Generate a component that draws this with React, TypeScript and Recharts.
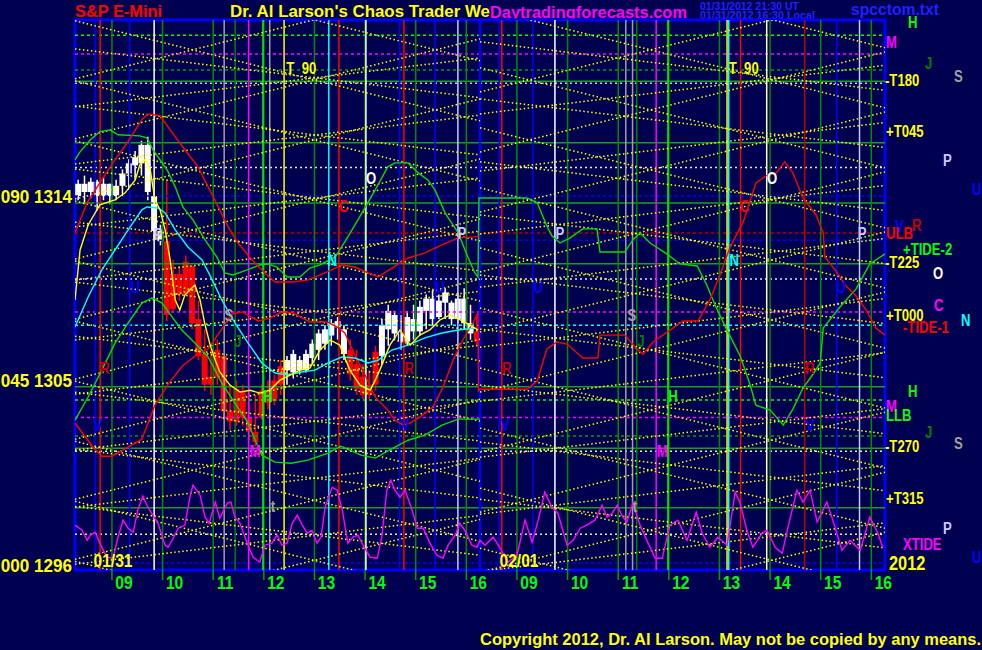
import React from "react";
import {
  ComposedChart,
  XAxis,
  YAxis,
  Bar,
  Line,
  Scatter,
  ReferenceLine,
  ReferenceArea,
} from "recharts";

// ---------- data ----------
// x axis: session hours, 0..8 = 01/31, 8..16 = 02/01 (each session opens 08:16)
const sessionOpen = 8.27;
const hourLabels = ["09", "10", "11", "12", "13", "14", "15", "16"];
const priceTicks = [1296, 1305, 1314];
const priceTickNames = ["000 1296", "045 1305", "090 1314"];

// 7.5 minute bars of 01/31: high, low, open, close, trend (w / r)
const bars: [number, number, number, number, string][] = [
  [1314.8, 1313.8, 1314.0, 1314.6, "w"],
  [1315.0, 1313.6, 1314.6, 1314.2, "w"],
  [1314.9, 1313.9, 1314.2, 1314.7, "w"],
  [1314.8, 1313.3, 1314.7, 1314.0, "w"],
  [1314.9, 1313.8, 1314.0, 1314.6, "w"],
  [1314.6, 1313.6, 1314.6, 1314.0, "w"],
  [1314.8, 1313.8, 1314.0, 1314.5, "w"],
  [1315.3, 1314.0, 1314.5, 1315.1, "w"],
  [1315.8, 1314.3, 1315.1, 1315.6, "w"],
  [1316.2, 1314.8, 1315.5, 1315.9, "w"],
  [1316.7, 1315.0, 1315.6, 1316.5, "w"],
  [1316.9, 1313.8, 1316.5, 1314.2, "w"],
  [1314.1, 1311.9, 1314.0, 1312.3, "w"],
  [1312.6, 1311.6, 1312.3, 1311.8, "w"],
  [1314.8, 1307.9, 1311.8, 1308.2, "r"],
  [1310.9, 1308.4, 1308.5, 1310.2, "r"],
  [1310.6, 1308.9, 1310.2, 1309.2, "r"],
  [1311.1, 1309.4, 1309.2, 1310.8, "r"],
  [1310.4, 1307.5, 1310.6, 1307.8, "r"],
  [1308.9, 1306.0, 1308.0, 1306.2, "r"],
  [1307.5, 1304.5, 1306.3, 1304.8, "r"],
  [1306.5, 1304.3, 1304.8, 1305.2, "r"],
  [1307.0, 1304.8, 1305.2, 1306.5, "r"],
  [1306.0, 1303.1, 1306.2, 1303.5, "r"],
  [1304.8, 1302.6, 1303.5, 1303.0, "r"],
  [1305.0, 1302.8, 1303.0, 1304.6, "r"],
  [1304.8, 1302.8, 1304.5, 1303.2, "r"],
  [1304.5, 1302.1, 1303.2, 1302.5, "r"],
  [1304.3, 1301.8, 1302.5, 1302.0, "r"],
  [1304.8, 1303.1, 1303.2, 1304.5, "r"],
  [1305.0, 1303.6, 1304.4, 1303.9, "r"],
  [1305.3, 1303.8, 1304.0, 1305.0, "r"],
  [1306.0, 1304.3, 1304.8, 1305.7, "r"],
  [1306.2, 1304.8, 1305.5, 1306.0, "w"],
  [1306.5, 1305.1, 1305.4, 1306.3, "w"],
  [1306.2, 1305.3, 1306.0, 1305.5, "w"],
  [1306.5, 1305.4, 1305.5, 1306.3, "w"],
  [1307.0, 1305.8, 1306.1, 1306.8, "w"],
  [1307.5, 1306.0, 1306.5, 1307.3, "w"],
  [1307.7, 1306.5, 1306.8, 1307.5, "w"],
  [1308.0, 1306.7, 1307.2, 1307.8, "w"],
  [1308.1, 1307.0, 1307.6, 1307.9, "w"],
  [1307.7, 1306.0, 1307.5, 1306.3, "w"],
  [1307.0, 1305.0, 1306.5, 1305.3, "r"],
  [1306.5, 1304.3, 1305.8, 1304.6, "r"],
  [1305.8, 1304.1, 1305.2, 1304.3, "r"],
  [1305.5, 1304.1, 1304.3, 1304.8, "r"],
  [1306.7, 1304.5, 1304.8, 1306.4, "r"],
  [1308.0, 1305.8, 1306.2, 1307.7, "w"],
  [1308.7, 1306.7, 1307.5, 1308.4, "w"],
  [1308.4, 1307.0, 1308.2, 1307.3, "w"],
  [1308.2, 1306.5, 1307.3, 1306.9, "w"],
  [1308.4, 1306.7, 1306.9, 1308.1, "w"],
  [1308.7, 1307.0, 1308.0, 1307.4, "w"],
  [1308.9, 1307.2, 1307.4, 1308.6, "w"],
  [1309.2, 1307.5, 1308.4, 1309.0, "w"],
  [1309.4, 1307.7, 1309.0, 1308.0, "w"],
  [1309.2, 1308.0, 1308.1, 1308.9, "w"],
  [1309.5, 1308.0, 1308.8, 1309.3, "w"],
  [1308.9, 1307.7, 1308.8, 1308.0, "w"],
  [1309.3, 1307.8, 1308.0, 1309.0, "w"],
  [1309.5, 1307.5, 1309.0, 1307.8, "w"],
  [1308.7, 1307.0, 1307.8, 1307.3, "w"],
  [1308.2, 1306.7, 1307.4, 1306.9, "r"],
];

// curves: [session hour, price]
const yellowAvg: [number, number][] = [
  [0, 1308.93], [0.1, 1311.37], [0.26, 1312.59], [0.49, 1313.57], [0.79, 1313.81], [0.99, 1314.16],
  [1.19, 1314.79], [1.28, 1315.52], [1.38, 1315.77], [1.48, 1315.38], [1.58, 1313.81], [1.68, 1313.33],
  [1.78, 1312.35], [1.88, 1310.88], [1.98, 1308.93], [2.07, 1308.44], [2.17, 1309.17], [2.27, 1309.42],
  [2.37, 1309.66], [2.47, 1308.93], [2.57, 1307.71], [2.67, 1306.73], [2.77, 1306.0], [2.86, 1305.42],
  [3.06, 1304.78], [3.26, 1304.44], [3.46, 1304.53], [3.65, 1304.39], [3.85, 1304.53], [4.05, 1305.02],
  [4.25, 1305.27], [4.44, 1305.51], [4.64, 1305.61], [4.84, 1306.49], [5.04, 1306.98], [5.23, 1306.73],
  [5.43, 1305.51], [5.63, 1304.78], [5.83, 1304.53], [5.93, 1305.02], [6.02, 1305.51], [6.22, 1306.73],
  [6.42, 1307.47], [6.62, 1306.73], [6.81, 1307.22], [7.01, 1307.47], [7.21, 1307.96], [7.41, 1308.2],
  [7.61, 1307.96], [7.8, 1307.71], [7.96, 1307.47],
];

const cyanLine: [number, number][] = [
  [0, 1307.61], [0.26, 1309.08], [0.53, 1310.4], [0.79, 1311.37], [1.05, 1312.35], [1.32, 1313.33],
  [1.42, 1313.47], [1.64, 1313.42], [1.78, 1313.18], [1.98, 1312.35], [2.23, 1311.52], [2.51, 1310.88],
  [2.71, 1309.91], [2.9, 1308.93], [3.16, 1307.81], [3.42, 1306.83], [3.69, 1305.86], [3.95, 1305.37],
  [4.21, 1305.27], [4.48, 1305.42], [4.74, 1305.51], [5.0, 1305.86], [5.27, 1306.15], [5.53, 1306.1],
  [5.79, 1305.86], [5.99, 1306.0], [6.26, 1306.49], [6.58, 1306.73], [6.91, 1307.08], [7.25, 1307.32],
  [7.57, 1307.47], [7.9, 1307.56],
];

const redUpper: [number, number][] = [
  [0, 1312.2], [0.24, 1313.67], [0.49, 1314.64], [0.75, 1315.62], [1.03, 1316.6], [1.32, 1317.72],
  [1.44, 1318.01], [1.68, 1317.92], [1.88, 1317.23], [2.17, 1316.26], [2.43, 1315.43], [2.63, 1314.45],
  [2.83, 1313.47], [3.03, 1312.49], [3.22, 1311.71], [3.5, 1310.88], [3.75, 1310.25], [3.95, 1309.81],
  [4.29, 1309.81], [4.61, 1309.91], [4.94, 1310.25], [5.27, 1310.64], [5.53, 1310.54], [5.79, 1310.25],
  [5.99, 1310.06], [6.26, 1310.49], [6.58, 1310.98], [6.91, 1311.23], [7.25, 1311.62], [7.57, 1311.96],
  [7.9, 1312.01], [8.0, 1312.06],
];

const redTide: [number, number][] = [
  [0, 1302.93], [0.34, 1301.8], [0.53, 1301.31], [0.73, 1301.31], [1.05, 1301.75], [1.32, 1302.14],
  [1.58, 1303.8], [1.84, 1304.83], [2.12, 1305.71], [2.37, 1306.2], [2.63, 1306.54], [2.91, 1307.56],
  [3.1, 1308.25], [3.3, 1308.35], [3.62, 1307.91], [3.85, 1308.05], [4.09, 1308.35], [4.31, 1308.3],
  [4.64, 1307.86], [4.98, 1307.86], [5.18, 1307.61], [5.33, 1307.32], [5.53, 1306.24], [5.73, 1305.27],
  [5.93, 1304.2], [6.18, 1303.56], [6.32, 1303.07], [6.48, 1302.83], [6.62, 1302.93], [6.81, 1303.22],
  [7.07, 1303.71], [7.27, 1304.68], [7.47, 1306.0], [7.66, 1306.98], [7.86, 1307.81], [7.96, 1308.3],
  [7.97, 1304.5], [8.0, 1304.58], [8.93, 1304.58], [9.13, 1304.98], [9.32, 1306.54], [9.52, 1306.88],
  [9.72, 1306.78], [10.03, 1306.1], [10.33, 1306.1], [10.37, 1307.22], [10.86, 1307.22], [11.1, 1306.54],
  [11.22, 1306.29], [11.42, 1306.88], [11.81, 1307.56], [12.01, 1307.91], [12.31, 1307.91], [12.54, 1308.93],
  [12.74, 1310.15], [12.94, 1311.52], [13.2, 1312.74], [13.45, 1314.64], [13.65, 1314.99], [13.85, 1315.13],
  [14.02, 1315.67], [14.18, 1315.13], [14.38, 1313.91], [14.64, 1313.08], [14.78, 1312.2], [14.81, 1311.03],
  [15.03, 1310.35], [15.23, 1309.61], [15.43, 1309.13], [15.63, 1308.44], [15.82, 1307.56], [16.0, 1307.22],
];

const greenTide: [number, number][] = [
  [0, 1315.77], [0.1, 1316.16], [0.3, 1316.74], [0.49, 1317.14], [0.69, 1317.23], [0.85, 1316.99],
  [1.28, 1316.94], [1.42, 1316.84], [1.54, 1316.26], [1.68, 1315.77], [1.82, 1315.28], [1.98, 1314.45],
  [2.13, 1313.47], [2.33, 1312.84], [2.53, 1312.01], [2.8, 1311.03], [2.96, 1310.25], [3.12, 1310.15],
  [3.4, 1310.4], [3.65, 1310.64], [3.81, 1310.69], [3.99, 1310.54], [4.19, 1310.05], [4.44, 1310.05],
  [4.64, 1310.49], [4.84, 1310.64], [5.14, 1311.03], [5.39, 1312.01], [5.67, 1313.18], [5.93, 1314.3],
  [6.18, 1315.43], [6.32, 1315.62], [6.58, 1315.62], [6.78, 1315.13], [6.97, 1314.79], [7.11, 1314.3],
  [7.31, 1313.18], [7.57, 1312.2], [7.76, 1311.03], [7.9, 1310.25], [7.96, 1310.05], [7.98, 1313.91],
  [8.0, 1313.91], [8.93, 1313.91], [9.13, 1313.67], [9.32, 1312.54], [9.42, 1312.06], [9.58, 1311.71],
  [9.78, 1311.96], [10.03, 1312.4], [10.31, 1312.4], [10.37, 1311.27], [10.86, 1311.27], [11.02, 1311.86],
  [11.16, 1312.2], [11.36, 1311.71], [11.69, 1311.18], [11.95, 1310.69], [12.29, 1310.59], [12.48, 1309.66],
  [12.66, 1308.59], [12.86, 1307.56], [13.14, 1306.2], [13.33, 1304.83], [13.45, 1303.8], [13.73, 1303.56],
  [13.99, 1302.83], [14.18, 1303.61], [14.38, 1304.63], [14.58, 1305.32], [14.72, 1305.86], [14.78, 1307.56],
  [15.11, 1308.59], [15.43, 1309.47], [15.7, 1310.69], [16.0, 1311.18],
];

const greenLow: [number, number][] = [
  [0, 1303.07], [0.26, 1304.2], [0.53, 1305.51], [0.79, 1306.83], [1.05, 1307.81], [1.32, 1308.78],
  [1.52, 1309.03], [1.72, 1308.78], [1.92, 1308.1], [2.11, 1307.47], [2.37, 1306.83], [2.63, 1306.15],
  [2.9, 1304.88], [3.16, 1303.9], [3.42, 1302.93], [3.56, 1302.09], [3.69, 1301.36], [3.95, 1301.02],
  [4.27, 1300.97], [4.6, 1301.12], [5.0, 1301.46], [5.25, 1301.8], [5.65, 1301.36], [5.93, 1301.22],
  [6.32, 1301.75], [6.58, 1302.09], [6.91, 1302.34], [7.25, 1302.83], [7.57, 1303.12], [8.0, 1303.12],
];

const xtide: [number, number][] = [
  [0, 1297.95], [0.14, 1297.7], [0.24, 1297.21], [0.3, 1297.46], [0.4, 1297.6], [0.49, 1297.07],
  [0.63, 1296.38], [0.75, 1296.33], [0.85, 1297.36], [0.95, 1298.19], [1.05, 1297.8], [1.15, 1297.6],
  [1.24, 1298.68], [1.34, 1299.36], [1.42, 1298.92], [1.54, 1298.43], [1.64, 1298.04], [1.78, 1296.97],
  [1.84, 1296.87], [1.94, 1297.31], [2.04, 1297.8], [2.17, 1297.95], [2.27, 1299.31], [2.33, 1299.9],
  [2.47, 1299.41], [2.57, 1298.34], [2.65, 1298.04], [2.77, 1299.07], [2.86, 1298.29], [3.01, 1299.02],
  [3.08, 1299.07], [3.16, 1298.34], [3.26, 1298.04], [3.4, 1297.07], [3.52, 1296.38], [3.65, 1296.14],
  [3.75, 1296.97], [3.89, 1297.07], [3.99, 1297.46], [4.09, 1296.97], [4.19, 1297.07], [4.29, 1298.04],
  [4.39, 1298.43], [4.49, 1297.95], [4.59, 1297.55], [4.68, 1297.7], [4.78, 1297.07], [4.86, 1297.36],
  [4.94, 1298.82], [5.08, 1299.8], [5.18, 1299.65], [5.28, 1298.68], [5.39, 1297.07], [5.49, 1297.36],
  [5.59, 1297.46], [5.69, 1296.97], [5.83, 1296.38], [5.97, 1296.33], [6.06, 1297.36], [6.16, 1299.65],
  [6.24, 1300.14], [6.32, 1299.65], [6.42, 1299.31], [6.52, 1299.65], [6.66, 1298.68], [6.76, 1297.8],
  [6.88, 1297.8], [7.01, 1297.07], [7.15, 1296.48], [7.27, 1296.33], [7.37, 1296.97], [7.51, 1297.46],
  [7.6, 1298.04], [7.7, 1297.7], [7.84, 1296.97], [7.94, 1296.87], [8.0, 1297.21], [8.1, 1296.97],
  [8.26, 1297.36], [8.4, 1296.82], [8.55, 1296.14], [8.73, 1296.48], [8.89, 1298.19], [9.03, 1297.11],
  [9.15, 1298.19], [9.28, 1299.56], [9.42, 1298.82], [9.54, 1298.53], [9.72, 1296.97], [9.84, 1297.21],
  [9.98, 1297.8], [10.11, 1297.95], [10.27, 1298.19], [10.41, 1298.92], [10.51, 1298.34], [10.61, 1298.53],
  [10.71, 1298.92], [10.8, 1298.43], [10.9, 1298.09], [11.02, 1299.02], [11.16, 1297.95], [11.32, 1297.07],
  [11.46, 1296.33], [11.6, 1296.33], [11.75, 1297.95], [11.91, 1298.19], [12.09, 1297.21], [12.27, 1298.58],
  [12.39, 1297.55], [12.54, 1296.87], [12.7, 1297.36], [12.88, 1296.97], [13.04, 1299.56], [13.14, 1299.02],
  [13.27, 1297.7], [13.39, 1296.87], [13.57, 1297.55], [13.67, 1297.7], [13.83, 1296.87], [13.97, 1296.58],
  [14.08, 1297.8], [14.26, 1299.65], [14.38, 1299.07], [14.52, 1299.65], [14.66, 1298.09], [14.85, 1299.07],
  [14.97, 1298.19], [15.15, 1296.72], [15.31, 1297.21], [15.51, 1296.72], [15.7, 1298.34], [15.86, 1297.55],
  [15.96, 1296.82],
];

// vertical time lines: session, clock time, kind
const timeLines: [number, string, string][] = [
  [0, "8:40", "b"], [0, "8:46", "r"], [0, "9:21", "b"], [0, "9:50", "w"], [0, "11:13", "gy"],
  [0, "11:26", "dg"], [0, "11:42", "m"], [0, "11:59", "lg"], [0, "12:07", "gy"], [0, "12:24", "y"],
  [0, "13:17", "c"], [0, "13:29", "r"], [0, "14:01", "w"], [0, "14:41", "b"], [0, "14:46", "r"],
  [0, "15:23", "b"], [0, "15:50", "lv"],
  [1, "8:39", "b"], [1, "8:42", "r"], [1, "9:19", "b"], [1, "9:45", "w"], [1, "11:09", "gy"],
  [1, "11:17", "gy"], [1, "11:22", "dg"], [1, "11:45", "m"], [1, "11:59", "lg"], [1, "13:09", "y"],
  [1, "13:11", "c"], [1, "13:25", "r"], [1, "13:56", "w"], [1, "14:41", "dr"], [1, "15:19", "b"],
  [1, "15:46", "lv"],
];

// horizontal price levels: price, kind
const priceLevels: [number, string][] = [
  [1321.85, "lgd"], [1320.93, "md"], [1320.15, "dgd"], [1319.6, "gs"], [1319.5, "lvd"],
  [1316.6, "gs"], [1315.4, "wd"], [1314.0, "bd"], [1313.66, "gs"], [1312.2, "rd"],
  [1311.85, "bd"], [1310.7, "gs"], [1309.95, "wd"], [1308.34, "md"], [1307.7, "cd"],
  [1304.7, "gs"], [1304.05, "lgd"], [1303.2, "md"], [1302.3, "dgd"], [1301.7, "gs"],
  [1301.55, "wd"], [1298.8, "gs"], [1297.5, "wd"], [1296.1, "bd"],
];

// angle lines: session, price at session open, price at session close
const angleLines: [number, number, number][] = [
  [0, 1325.48, 1320.6], [0, 1322.55, 1317.67], [0, 1319.62, 1314.74], [0, 1316.69, 1311.81],
  [0, 1313.76, 1308.88], [0, 1310.83, 1305.95], [0, 1307.9, 1303.02], [0, 1304.97, 1300.09],
  [0, 1302.04, 1297.16], [0, 1299.11, 1294.23], [0, 1296.18, 1291.3],
  [0, 1319.72, 1324.6], [0, 1316.79, 1321.67], [0, 1313.86, 1318.74], [0, 1310.93, 1315.81],
  [0, 1308.0, 1312.88], [0, 1305.07, 1309.95], [0, 1302.14, 1307.02], [0, 1299.21, 1304.09],
  [0, 1296.28, 1301.16], [0, 1293.35, 1298.23],
  [0, 1321.18, 1318.8], [0, 1318.39, 1316.01], [0, 1315.32, 1312.94], [0, 1312.73, 1310.35],
  [0, 1309.8, 1307.42], [0, 1307.16, 1304.78], [0, 1304.43, 1302.05], [0, 1301.65, 1299.27],
  [0, 1298.86, 1296.48],
  [0, 1318.36, 1320.74], [0, 1315.57, 1317.95], [0, 1312.5, 1314.88], [0, 1309.91, 1312.29],
  [0, 1306.98, 1309.36], [0, 1304.34, 1306.72], [0, 1301.61, 1303.99], [0, 1298.83, 1301.21],
  [0, 1296.04, 1298.42],
  [1, 1326.12, 1321.24], [1, 1323.19, 1318.31], [1, 1320.26, 1315.38], [1, 1317.33, 1312.45],
  [1, 1314.4, 1309.52], [1, 1311.47, 1306.59], [1, 1308.54, 1303.66], [1, 1305.61, 1300.73],
  [1, 1302.68, 1297.8], [1, 1299.75, 1294.87], [1, 1296.82, 1291.94],
  [1, 1319.08, 1323.96], [1, 1316.15, 1321.03], [1, 1313.22, 1318.1], [1, 1310.3, 1315.18],
  [1, 1307.37, 1312.25], [1, 1304.44, 1309.32], [1, 1301.51, 1306.39], [1, 1298.58, 1303.46],
  [1, 1295.65, 1300.53], [1, 1292.72, 1297.6],
  [1, 1321.53, 1319.16], [1, 1318.74, 1316.37], [1, 1315.67, 1313.3], [1, 1313.08, 1310.71],
  [1, 1310.15, 1307.78], [1, 1307.51, 1305.14], [1, 1304.78, 1302.41], [1, 1302.0, 1299.63],
  [1, 1299.21, 1296.84],
  [1, 1318.01, 1320.38], [1, 1315.22, 1317.59], [1, 1312.15, 1314.52], [1, 1309.56, 1311.93],
  [1, 1306.63, 1309.0], [1, 1303.99, 1306.36], [1, 1301.26, 1303.63], [1, 1298.48, 1300.85],
  [1, 1295.69, 1298.06],
];

// letters drawn inside the chart: text, session hour, price
const chartLetters: [string, number, number][] = [
  ["P", 1.64, 1312.15], ["P", 7.64, 1312.2], ["P", 9.58, 1312.2], ["P", 15.55, 1312.2],
  ["U", 1.19, 1309.57], ["U", 7.21, 1309.57], ["U", 9.15, 1309.57], ["U", 15.13, 1309.57],
  ["O", 5.85, 1314.89], ["O", 13.77, 1314.89], ["C", 5.31, 1313.52], ["C", 13.23, 1313.52],
  ["N", 5.08, 1310.88], ["N", 13.02, 1310.88], ["S", 3.04, 1308.2], ["S", 11.0, 1308.2],
  ["J", 3.22, 1306.93], ["J", 11.18, 1306.93], ["R", 0.59, 1305.61], ["R", 6.6, 1305.61],
  ["R", 8.53, 1305.61], ["R", 14.52, 1305.61], ["H", 3.81, 1304.24], ["H", 11.81, 1304.24],
  ["V", 0.45, 1302.83], ["V", 6.52, 1302.83], ["V", 8.49, 1302.83], ["V", 14.52, 1302.83],
  ["M", 3.56, 1301.56], ["M", 11.6, 1301.56], ["t", 3.91, 1298.87], ["t", 11.06, 1298.87],
  ["T\u00a0\u00a090", 4.47, 1320.26], ["T\u00a0\u00a090", 13.21, 1320.26],
  ["01/31", 0.75, 1296.24], ["02/01", 8.77, 1296.24],
];

// labels right of the chart: text, price
const sideLabels: [string, number][] = [
  ["H", 1322.46], ["M", 1321.53], ["J", 1320.5], ["S", 1319.85], ["-T180", 1319.67],
  ["+T045", 1317.18], ["P", 1315.77], ["U", 1314.35], ["R", 1312.59], ["V", 1312.54],
  ["ULB", 1312.2], ["+TIDE-2", 1311.42], ["-T225", 1310.79], ["O", 1310.25], ["C", 1308.69],
  ["+T000", 1308.2], ["N", 1307.95], ["-TIDE-1", 1307.61], ["H", 1304.49], ["M", 1303.76],
  ["LLB", 1303.32], ["J", 1302.49], ["S", 1301.95], ["-T270", 1301.8], ["+T315", 1299.26],
  ["P", 1297.8], ["XTIDE", 1297.02], ["U", 1296.39], ["2012", 1296.09],
];

// ---------- styling ----------
const NAVY = "#000050";
const SANS = "'Liberation Sans', Arial, sans-serif";
const Y_MIN = 1295.76;
const Y_MAX = 1322.59;

const kindColor: Record<string, string> = {
  b: "#0000ff", r: "#ff0000", dr: "#c00000", w: "#ffffff", lv: "#c8c8ff", gy: "#a0a0a0",
  dg: "#008000", m: "#ff00ff", lg: "#00ff00", y: "#ffff00", c: "#00ffff",
};
const levelStyle: Record<string, { stroke: string; dash?: string }> = {
  gs: { stroke: "#1c9c1c" },
  lgd: { stroke: "#00ff00", dash: "3 3" },
  md: { stroke: "#ff00ff", dash: "3 3" },
  dgd: { stroke: "#00a000", dash: "3 3" },
  lvd: { stroke: "#c8c8ff", dash: "2 3" },
  wd: { stroke: "#e8e8e8", dash: "2 3" },
  bd: { stroke: "#0000ff", dash: "3 3" },
  rd: { stroke: "#b00000", dash: "3 3" },
  cd: { stroke: "#00ffff", dash: "3 3" },
};
const letterColor: Record<string, string> = {
  P: "#c8c8ff", U: "#0000ff", O: "#ffffff", C: "#ff0000", N: "#00ffff", S: "#a0a0a0",
  J: "#008000", R: "#c00000", H: "#00ff00", V: "#0000ff", M: "#ff00ff", t: "#a0a0a0",
};
const sideStyle: Record<string, { color: string; dx: number; size?: number }> = {
  H: { color: "#00ff00", dx: 23 }, M: { color: "#ff00ff", dx: 1 }, J: { color: "#008000", dx: 40 },
  S: { color: "#a0a0a0", dx: 69 }, P: { color: "#c8c8ff", dx: 58 }, U: { color: "#0000ff", dx: 87 },
  R: { color: "#c00000", dx: 27 }, V: { color: "#0000ff", dx: 10 }, O: { color: "#ffffff", dx: 48 },
  C: { color: "#ff00ff", dx: 49 }, N: { color: "#00ffff", dx: 76 },
  ULB: { color: "#ff0000", dx: 1 }, LLB: { color: "#00ff00", dx: 1 },
  "+TIDE-2": { color: "#00ff00", dx: 18 }, "-TIDE-1": { color: "#ff0000", dx: 18 },
  XTIDE: { color: "#ff00ff", dx: 18 },
  "-T180": { color: "#ffff00", dx: 0 }, "+T045": { color: "#ffff00", dx: 1 },
  "-T225": { color: "#ffff00", dx: 0 }, "+T000": { color: "#ffff00", dx: 1 },
  "-T270": { color: "#ffff00", dx: 0 }, "+T315": { color: "#ffff00", dx: 1 },
  "2012": { color: "#ffff00", dx: 4, size: 20 },
};

// ---------- helpers ----------
const clockToT = (day: number, clock: string) => {
  const [h, m] = clock.split(":").map(Number);
  return day * 8 + h + m / 60 - sessionOpen;
};
const hourTicks = [0, 1].flatMap((d) => hourLabels.map((h) => clockToT(d, `${h}:00`)));
const toPts = (arr: [number, number][]) => arr.map(([t, p]) => ({ t, p }));
const candleData = bars.map(([h, l, o, c, k], i) => ({ t: (i + 0.5) / 8, h, l, o, c, k }));
const letterData = chartLetters.map(([text, t, p]) => ({ text, t, p }));

const curves = [
  { data: toPts(greenLow), color: "#00e000" },
  { data: toPts(greenTide), color: "#00e000" },
  { data: toPts(redUpper), color: "#ff0000" },
  { data: toPts(redTide), color: "#ff0000" },
  { data: toPts(cyanLine), color: "#00ffff" },
  { data: toPts(xtide), color: "#ff00ff" },
];

// bold text squeezed horizontally, like the condensed lettering of the original
const NarrowText = ({ x, y, size, color, anchor = "start", squeeze = 0.82, children }: any) => (
  <text
    transform={`translate(${x},${y}) scale(${squeeze},1)`}
    dy={size * 0.36}
    textAnchor={anchor}
    fill={color}
    fontSize={size}
    fontWeight="bold"
    fontFamily={SANS}
  >
    {children}
  </text>
);

const Candle = (props: any) => {
  const { x, y, width, height, payload } = props;
  if (height == null || !payload) return null;
  const { h, l, o, c, k } = payload;
  const mid = x + width / 2;
  const per = height / (h - l || 1);
  const top = y + (h - Math.max(o, c)) * per;
  const bot = y + (h - Math.min(o, c)) * per;
  const col = k === "w" ? "#ffffff" : "#ff0000";
  return (
    <g>
      <line x1={mid} x2={mid} y1={y} y2={y + height} stroke={col} strokeWidth={1.5} />
      <rect x={mid - 3} y={top} width={6} height={Math.max(2, bot - top)} fill={col} />
    </g>
  );
};

const XTick = (props: any) => {
  const { x, y, payload } = props;
  const idx = hourTicks.findIndex((v) => Math.abs(v - payload.value) < 1e-6);
  const lab = hourLabels[idx % 8];
  return (
    <g>
      <line x1={x} x2={x} y1={y} y2={y + 10} stroke="#00a000" strokeWidth={1.5} />
      <NarrowText x={x + 12} y={y + 12} size={19} color="#00ff00" anchor="middle">
        {lab}
      </NarrowText>
    </g>
  );
};

const YTick = (props: any) => {
  const { x, y, payload } = props;
  const name = priceTickNames[priceTicks.indexOf(payload.value)];
  return (
    <NarrowText x={x - 3} y={y} size={19} color="#ffff00" anchor="end" squeeze={0.9}>
      {name}
    </NarrowText>
  );
};

const SideTick = (props: any) => {
  const { x, y, payload } = props;
  const lab = sideLabels.find((s) => s[1] === payload.value);
  if (!lab) return null;
  const st = sideStyle[lab[0]];
  return (
    <NarrowText x={x + st.dx} y={y} size={st.size ?? 16} color={st.color}>
      {lab[0]}
    </NarrowText>
  );
};

const LetterShape = (props: any) => {
  const { cx, cy, payload } = props;
  const txt: string = payload.text;
  const isDate = txt.includes("/");
  return (
    <NarrowText x={cx} y={cy} size={isDate ? 19 : 16} color={letterColor[txt] ?? "#ffff00"} anchor="middle">
      {txt}
    </NarrowText>
  );
};

export default function App() {
  return (
    <div style={{ position: "absolute", left: 0, top: 0, width: 982, height: 650, background: NAVY, overflow: "hidden" }}>
      <svg width={982} height={650} style={{ position: "absolute", left: 0, top: 0 }}>
        <g fontFamily={SANS} fontWeight="bold">
          <text x={75} y={17} fill="#ff0000" fontSize={17} textLength={87} lengthAdjust="spacingAndGlyphs">S&amp;P E-Mini</text>
          <text x={230} y={17} fill="#ffff00" fontSize={17} textLength={260} lengthAdjust="spacingAndGlyphs">Dr. Al Larson's Chaos Trader We</text>
          <text x={490} y={18} fill="#ff00ff" fontSize={17} textLength={197} lengthAdjust="spacingAndGlyphs">Daytradingforecasts.com</text>
          <text x={700} y={10} fill="#2020ff" fontSize={11} textLength={99} lengthAdjust="spacingAndGlyphs">01/31/2012 21:30 UT</text>
          <text x={700} y={19} fill="#2020ff" fontSize={11} textLength={115} lengthAdjust="spacingAndGlyphs">01/31/2012 16:30 Local</text>
          <text x={851} y={15} fill="#2020ff" fontSize={17} textLength={88} lengthAdjust="spacingAndGlyphs">spcctom.txt</text>
          <text x={480} y={645} fill="#ffff00" fontSize={16} textLength={501} lengthAdjust="spacingAndGlyphs">
            Copyright 2012, Dr. Al Larson. May not be copied by any means.
          </text>
        </g>
      </svg>
      <div style={{ position: "absolute", left: 0, top: 0 }}>
        <ComposedChart width={982} height={650} data={candleData} margin={{ top: 20, right: 0, bottom: 50, left: 0 }}>
          <XAxis
            dataKey="t"
            type="number"
            domain={[0, 16]}
            ticks={hourTicks}
            interval={0}
            allowDataOverflow
            axisLine={false}
            tickLine={false}
            tickSize={0}
            tickMargin={0}
            height={30}
            tick={(p: any) => <XTick {...p} />}
          />
          <YAxis
            type="number"
            domain={[Y_MIN, Y_MAX]}
            ticks={priceTicks}
            interval={0}
            allowDataOverflow
            axisLine={false}
            tickLine={false}
            tickSize={0}
            tickMargin={0}
            width={75}
            tick={(p: any) => <YTick {...p} />}
          />
          <YAxis
            yAxisId="side"
            orientation="right"
            type="number"
            domain={[Y_MIN, Y_MAX]}
            ticks={sideLabels.map((s) => s[1])}
            interval={0}
            allowDataOverflow
            axisLine={false}
            tickLine={false}
            tickSize={0}
            tickMargin={0}
            width={97}
            tick={(p: any) => <SideTick {...p} />}
          />

          {priceLevels.map(([p, k], i) => (
            <ReferenceLine
              key={`h${i}`}
              y={p}
              stroke={levelStyle[k].stroke}
              strokeDasharray={levelStyle[k].dash}
              strokeWidth={1.5}
            />
          ))}
          {hourTicks.map((t, i) => (
            <ReferenceLine key={`hr${i}`} x={t} stroke="#008c00" strokeWidth={1.5} />
          ))}
          {timeLines.map(([d, clk, k], i) => (
            <ReferenceLine key={`v${i}`} x={clockToT(d, clk)} stroke={kindColor[k]} strokeWidth={1.5} />
          ))}
          <ReferenceLine x={8} stroke="#0000ff" strokeWidth={2.5} />
          {angleLines.map(([d, a, b], i) => (
            <ReferenceLine
              key={`a${i}`}
              segment={[{ x: d * 8, y: a }, { x: d * 8 + 8, y: b }]}
              stroke="#ffff00"
              strokeWidth={1.5}
              strokeDasharray="1.5 2.5"
              ifOverflow="hidden"
            />
          ))}

          {curves.map((c, i) => (
            <Line
              key={`c${i}`}
              data={c.data}
              dataKey="p"
              type="linear"
              stroke={c.color}
              strokeWidth={1.4}
              dot={false}
              isAnimationActive={false}
            />
          ))}
          <Bar
            dataKey={(d: any) => [d.l, d.h]}
            barSize={5}
            shape={(p: any) => <Candle {...p} />}
            isAnimationActive={false}
          />
          <Line
            data={toPts(yellowAvg)}
            dataKey="p"
            type="linear"
            stroke="#ffff00"
            strokeWidth={1.4}
            dot={false}
            isAnimationActive={false}
          />
          <Scatter
            data={letterData}
            dataKey="p"
            shape={(p: any) => <LetterShape {...p} />}
            isAnimationActive={false}
          />
          <ReferenceArea
            x1={0}
            x2={16}
            y1={Y_MIN}
            y2={Y_MAX}
            fill="none"
            fillOpacity={0}
            stroke="#0000ff"
            strokeWidth={3}
            ifOverflow="visible"
          />
        </ComposedChart>
      </div>
    </div>
  );
}
